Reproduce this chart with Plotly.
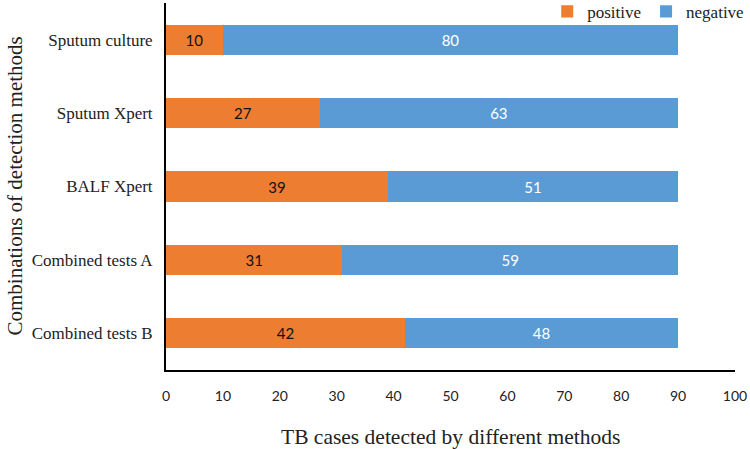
import plotly.graph_objects as go

methods = ["Sputum culture", "Sputum Xpert", "BALF Xpert", "Combined tests A", "Combined tests B"]
positive = [10, 27, 39, 31, 42]
negative = [80, 63, 51, 59, 48]
x_ticks = [0, 10, 20, 30, 40, 50, 60, 70, 80, 90, 100]

SERIF = "Liberation Serif, Times New Roman, serif"
SANS = "Lato, Open Sans, sans-serif"

fig = go.Figure()
fig.add_trace(go.Bar(
    y=methods, x=positive, name="positive", orientation="h",
    marker=dict(color="#ED7D31", line=dict(width=0)),
    text=positive, textposition="inside", insidetextanchor="middle",
    textfont=dict(family=SANS, size=15, color="#111"),
    width=0.41,
))
fig.add_trace(go.Bar(
    y=methods, x=negative, name="negative", orientation="h",
    marker=dict(color="#5B9BD5", line=dict(width=0)),
    text=negative, textposition="inside", insidetextanchor="middle",
    textfont=dict(family=SANS, size=15, color="white"),
    width=0.41,
))

fig.update_layout(
    barmode="stack",
    width=750, height=449,
    margin=dict(l=166, r=15, t=3, b=79, autoexpand=False),
    plot_bgcolor="white", paper_bgcolor="white",
    showlegend=True,
    legend=dict(orientation="h", x=1.025, xanchor="right", y=1.025, yanchor="top",
                font=dict(family=SERIF, size=17, color="#222"),
                bgcolor="rgba(0,0,0,0)", itemwidth=30, traceorder="normal",
                tracegroupgap=0),
)
fig.update_xaxes(
    range=[0, 100], tickvals=x_ticks, ticks="", showgrid=False, zeroline=False,
    showline=True, linecolor="black", linewidth=2, automargin=False,
    tickfont=dict(family=SANS, size=14, color="#222"), ticklabelstandoff=12,
)
fig.update_yaxes(
    categoryorder="array", categoryarray=methods[::-1], ticks="", showgrid=False,
    showline=True, linecolor="black", linewidth=2, automargin=False,
    tickfont=dict(family=SERIF, size=17, color="#222"), ticklabelstandoff=8,
)
fig.add_annotation(text="TB cases detected by different methods", xref="paper", yref="paper",
                   x=0.5, y=0, yshift=-67, yanchor="middle", showarrow=False,
                   font=dict(family=SERIF, size=21.5, color="#222"))
fig.add_annotation(text="Combinations of detection methods", xref="paper", yref="paper",
                   x=0, xshift=-152, y=0.5, textangle=-90, xanchor="center", showarrow=False,
                   font=dict(family=SERIF, size=21, color="#222"))

fig.write_html("out.html", config={"displayModeBar": False},
               post_script="document.body.style.margin='0';document.body.style.overflow='hidden';")
